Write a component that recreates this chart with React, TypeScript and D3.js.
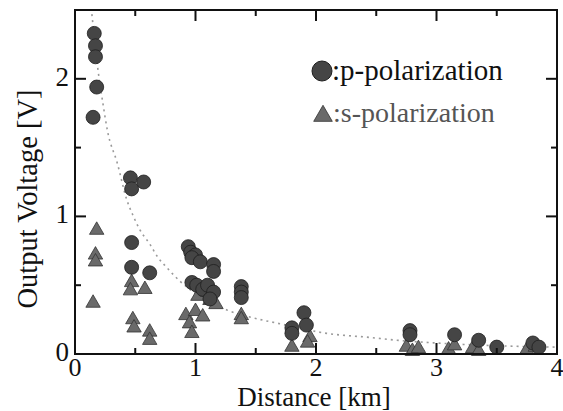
import React from "react";
import { scaleLinear, line, curveMonotoneX, symbol, symbolTriangle, range } from "d3";

// p-polarization (circles)
const pX = [0.16, 0.17, 0.17, 0.18, 0.15, 0.46, 0.47, 0.57, 0.47, 0.47, 0.62, 0.94, 0.96, 1.0, 0.97, 1.04, 1.15, 1.15, 0.97, 1.01, 1.06, 1.1, 1.15, 1.12, 1.38, 1.38, 1.38, 1.8, 1.8, 1.9, 1.92, 2.78, 2.78, 3.15, 3.35, 3.5, 3.8, 3.85];
const pY = [2.33, 2.24, 2.16, 1.94, 1.72, 1.28, 1.2, 1.25, 0.81, 0.63, 0.59, 0.78, 0.74, 0.72, 0.7, 0.67, 0.65, 0.6, 0.52, 0.5, 0.47, 0.5, 0.45, 0.4, 0.49, 0.45, 0.41, 0.19, 0.15, 0.3, 0.21, 0.17, 0.14, 0.14, 0.1, 0.05, 0.08, 0.05];

// s-polarization (triangles)
const sX = [0.18, 0.17, 0.17, 0.15, 0.47, 0.46, 0.58, 0.48, 0.49, 0.62, 0.62, 0.92, 1.0, 1.06, 0.95, 0.97, 1.02, 1.12, 1.17, 1.1, 1.38, 1.38, 1.8, 1.95, 1.93, 2.75, 2.8, 2.85, 3.1, 3.15, 3.3, 3.35, 3.75, 3.82];
const sY = [0.9, 0.72, 0.67, 0.37, 0.52, 0.46, 0.47, 0.25, 0.19, 0.16, 0.1, 0.28, 0.31, 0.27, 0.22, 0.15, 0.42, 0.39, 0.36, 0.45, 0.28, 0.25, 0.05, 0.12, 0.08, 0.05, 0.02, 0.04, 0.03, 0.06, 0.04, 0.02, 0.03, 0.05];

// fitted curve
const fitX = [0.14, 0.19, 0.23, 0.27, 0.35, 0.43, 0.48, 0.54, 0.62, 0.69, 0.76, 0.87, 1.0, 1.26, 1.54, 1.7, 2.09, 2.45, 2.67, 3.0, 3.5, 4.0];
const fitY = [2.47, 2.07, 1.83, 1.62, 1.39, 1.12, 1.01, 0.9, 0.8, 0.7, 0.63, 0.53, 0.44, 0.32, 0.25, 0.22, 0.15, 0.12, 0.1, 0.08, 0.06, 0.05];

const xTicks = [0, 1, 2, 3, 4];
const yTicks = [0, 1, 2];

const W = 563;
const H = 411;
const m = { left: 75, right: 6, top: 10, bottom: 57 };
const serif: React.CSSProperties = { fontFamily: "Liberation Serif, DejaVu Serif, serif" };

export default function App() {
  const x = scaleLinear().domain([0, 4]).range([m.left, W - m.right]);
  const y = scaleLinear().domain([0, 2.5]).range([H - m.bottom, m.top]);
  const x0 = m.left, x1 = W - m.right, y0 = H - m.bottom, y1 = m.top;

  const fitLine = line<number>()
    .x((_, i) => x(fitX[i]))
    .y((_, i) => y(fitY[i]))
    .curve(curveMonotoneX);

  const tri = symbol().type(symbolTriangle).size(90)();
  const triLegend = symbol().type(symbolTriangle).size(150)();

  const xMinor = range(0, 4.01, 0.5);
  const yMinor = range(0, 2.51, 0.5);

  return (
    <svg width={W} height={H} style={{ position: "absolute", left: 0, top: 0, background: "#fff" }}>
      {/* fit */}
      <path d={fitLine(fitX) || ""} fill="none" stroke="#9a9a9a" strokeWidth={1.6} strokeDasharray="2,4" />

      {/* s points */}
      {sX.map((v, i) => (
        <path key={"s" + i} d={tri} transform={`translate(${x(v)},${y(sY[i])})`} fill="#6a6a6a" stroke="#333" strokeWidth={0.8} />
      ))}
      {/* p points */}
      {pX.map((v, i) => (
        <circle key={"p" + i} cx={x(v)} cy={y(pY[i])} r={7} fill="#454545" stroke="#1e1e1e" strokeWidth={0.8} />
      ))}

      {/* frame */}
      <rect x={x0} y={y1} width={x1 - x0} height={y0 - y1} fill="none" stroke="#111" strokeWidth={2} />
      {xMinor.map((t) => {
        const len = Number.isInteger(t) ? 11 : 6;
        return (
          <g key={"xt" + t} stroke="#111" strokeWidth={2}>
            <line x1={x(t)} x2={x(t)} y1={y0} y2={y0 - len} />
            <line x1={x(t)} x2={x(t)} y1={y1} y2={y1 + len} />
          </g>
        );
      })}
      {yMinor.map((t) => {
        const len = Number.isInteger(t) ? 11 : 6;
        return (
          <g key={"yt" + t} stroke="#111" strokeWidth={2}>
            <line x1={x0} x2={x0 + len} y1={y(t)} y2={y(t)} />
            <line x1={x1} x2={x1 - len} y1={y(t)} y2={y(t)} />
          </g>
        );
      })}

      {/* tick labels */}
      {xTicks.map((t) => (
        <text key={"xl" + t} x={x(t)} y={y0 + 22} textAnchor="middle" style={serif} fontSize={26} fill="#111">
          {t}
        </text>
      ))}
      {yTicks.map((t) => (
        <text key={"yl" + t} x={x0 - 6} y={y(t) + 7} textAnchor="end" style={serif} fontSize={27} fill="#111">
          {t}
        </text>
      ))}

      {/* axis titles */}
      <text x={314} y={H - 5} textAnchor="middle" style={serif} fontSize={27} fill="#111">
        Distance [km]
      </text>
      <text transform={`translate(37,199) rotate(-90)`} textAnchor="middle" style={serif} fontSize={28.5} fill="#111">
        Output Voltage [V]
      </text>

      {/* legend */}
      <circle cx={322} cy={71} r={10} fill="#454545" stroke="#1e1e1e" strokeWidth={1} />
      <text x={332} y={80} style={serif} fontSize={29} fill="#111">
        :p-polarization
      </text>
      <path d={triLegend} transform="translate(323,116)" fill="#6a6a6a" stroke="#333" strokeWidth={0.8} />
      <text x={333} y={122} style={serif} fontSize={28} fill="#555">
        :s-polarization
      </text>
    </svg>
  );
}
